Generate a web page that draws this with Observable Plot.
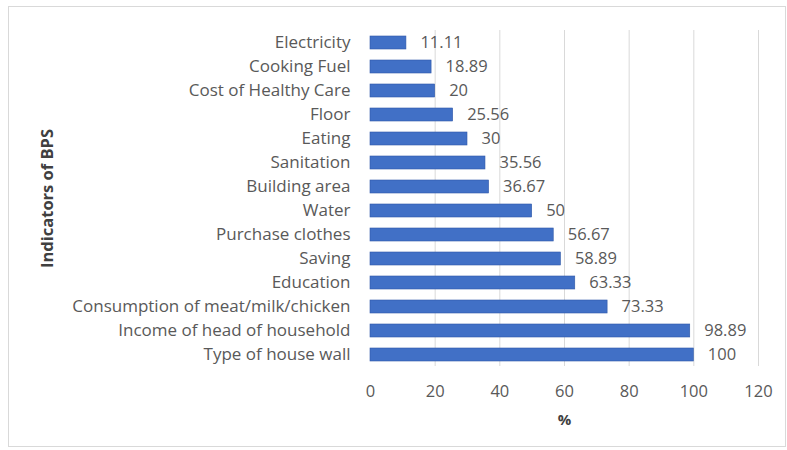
<!DOCTYPE html>
<html>
<head>
<meta charset="utf-8">
<script src="https://cdn.jsdelivr.net/npm/d3@7"></script>
<script src="https://cdn.jsdelivr.net/npm/@observablehq/plot@0.6"></script>
<style>
  body { margin: 0; background: #fff; }
  #wrap { position: relative; width: 787px; height: 450px; }
  #border { position: absolute; left: 8px; top: 6px; width: 776px; height: 439px; border: 1px solid #d9d9d9; pointer-events: none; }
</style>
</head>
<body>
<div id="wrap"><div id="border"></div></div>
<script>
const categories = ["Electricity", "Cooking Fuel", "Cost of Healthy Care", "Floor", "Eating", "Sanitation", "Building area", "Water", "Purchase clothes", "Saving", "Education", "Consumption of meat/milk/chicken", "Income of head of household", "Type of house wall"];
const values = [11.11, 18.89, 20, 25.56, 30, 35.56, 36.67, 50, 56.67, 58.89, 63.33, 73.33, 98.89, 100];
const xTicks = [0, 20, 40, 60, 80, 100, 120];

const data = categories.map((c, i) => ({ category: c, value: values[i] }));
const FS = 16.5;

const chart = Plot.plot({
  width: 787,
  height: 450,
  marginLeft: 370,
  marginRight: 29,
  marginTop: 24,
  marginBottom: 78,
  style: { fontFamily: "'Open Sans', sans-serif", fontSize: FS + "px", color: "#595959", background: "white" },
  x: { domain: [0, 120], ticks: xTicks, tickSize: 0, label: null },
  y: { domain: categories, padding: 0.46, label: null },
  marks: [
    Plot.gridX(xTicks.filter(d => d > 0), { stroke: "#d9d9d9", strokeOpacity: 1, insetTop: 6, insetBottom: 6 }),
    Plot.barX(data, { x: "value", y: "category", fill: "#4170c6", stroke: "#2f58a8", strokeWidth: 0.6 }),
    Plot.text(data, { x: "value", y: "category", text: d => String(d.value), textAnchor: "start", dx: 14, fill: "#595959", fontSize: FS }),
    Plot.axisX({ ticks: xTicks, tickSize: 0, tickPadding: 13, fontSize: FS, fill: "#595959", label: null }),
    Plot.axisY({ tickSize: 0, tickPadding: 20, fontSize: 17, fill: "#595959", label: null }),
    Plot.text(["%"], { frameAnchor: "bottom", dy: 52, fontWeight: "bold", fontSize: 15, fill: "#404040" }),
    Plot.text(["Indicators of BPS"], { frameAnchor: "left", textAnchor: "middle", dx: -323, dy: 0, rotate: -90, fontWeight: "bold", fontSize: 16.5, fill: "#404040" })
  ]
});
document.getElementById("wrap").prepend(chart);
</script>
</body>
</html>
